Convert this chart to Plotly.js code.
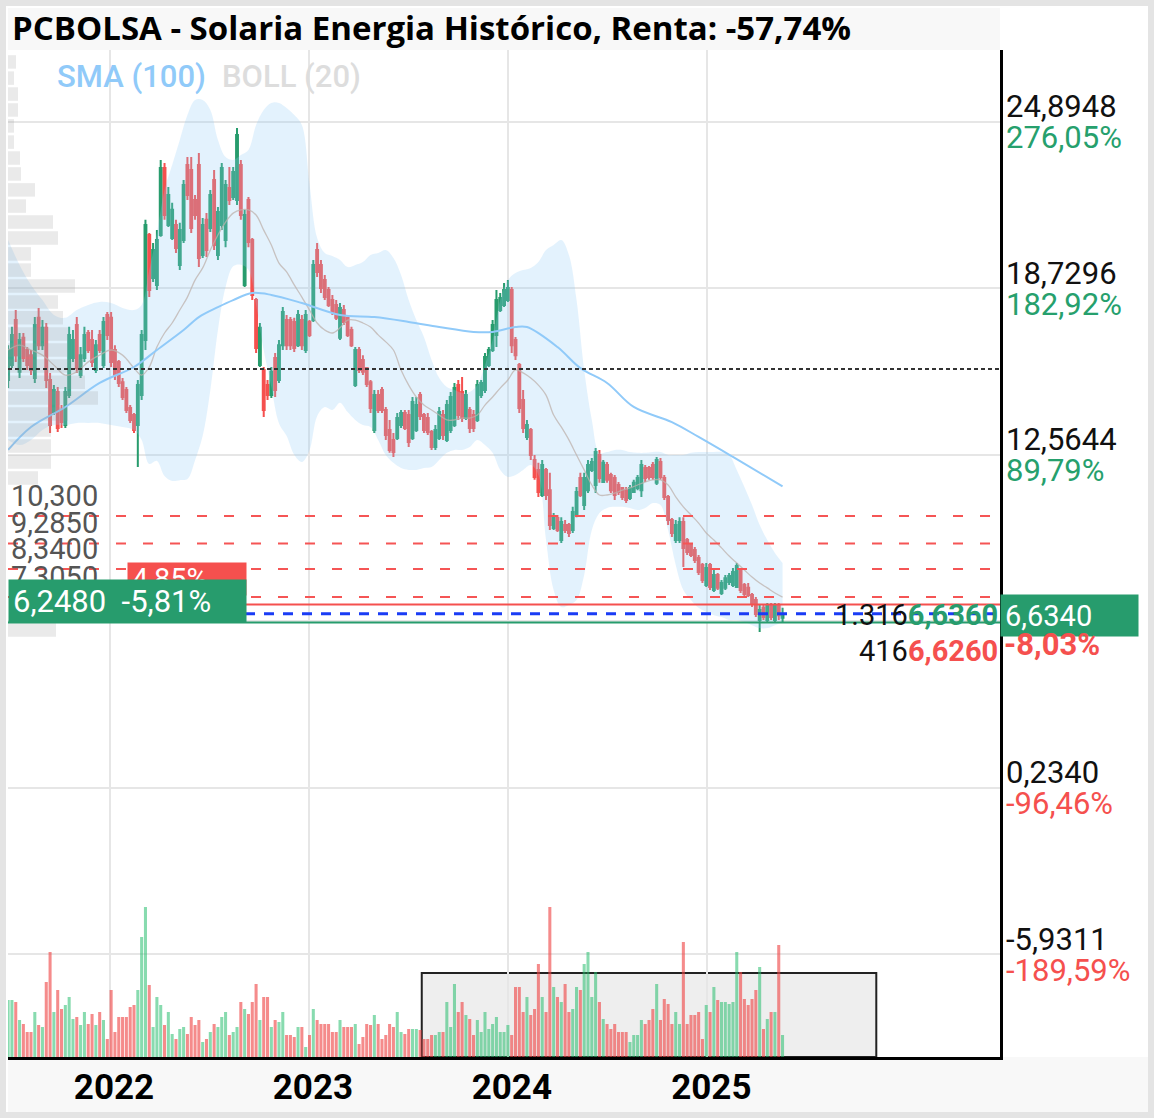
<!DOCTYPE html>
<html><head><meta charset="utf-8">
<script src="https://cdn.plot.ly/plotly-3.0.1.min.js"></script>
<style>
html,body{margin:0;padding:0;background:#e4e4e4;}
#chart{position:absolute;left:6px;top:6px;width:1142px;height:1106px;background:#fff;}
</style></head><body><div id="chart"></div>
<script>
// ---------- DATA (weekly candles) ----------
const firstWeek = [2021, 5, 28]; // 2021-06-28, weekly bars
const opens = [15.34,15.89,17.56,15.64,16.90,16.45,16.26,15.41,17.64,16.63,
17.27,15.34,14.15,14.89,14.23,13.67,14.78,16.15,17.38,15.52,
16.15,17.08,16.82,15.71,17.01,15.89,17.75,17.64,16.45,16.01,
15.26,14.97,14.30,14.04,13.67,14.78,16.82,20.71,19.12,18.86,
20.71,23.19,21.08,20.60,21.08,19.60,20.52,23.30,23.12,22.01,
23.30,19.97,21.27,20.97,22.75,19.97,21.08,20.52,22.45,22.12,
22.01,23.30,18.86,22.01,20.52,18.30,15.89,15.71,15.15,14.78,
16.15,15.34,16.63,17.56,17.56,17.49,16.63,17.56,16.45,17.49,
17.56,20.15,19.60,19.04,18.67,18.30,18.12,16.90,17.93,17.64,
17.19,15.15,16.45,16.08,15.78,15.26,13.49,14.78,14.97,14.23,
13.49,13.12,13.19,13.67,14.12,14.04,13.19,13.49,14.78,14.04,
13.93,13.41,12.86,13.19,14.04,13.12,13.49,13.67,15.15,14.89,
13.93,14.23,14.04,13.86,14.78,14.97,15.89,16.45,17.01,17.93,
18.12,18.30,18.67,16.82,15.89,14.60,13.23,13.49,12.38,12.01,
11.08,12.01,11.26,9.86,10.23,9.41,9.97,9.97,9.78,10.34,
11.71,10.71,11.26,12.01,11.45,12.56,11.56,12.19,11.82,11.71,
11.45,11.34,11.26,10.97,11.19,11.34,11.26,12.08,12.08,12.19,
11.53,12.30,11.71,11.01,10.15,9.41,9.41,10.08,9.41,9.23,
9.04,8.75,8.49,7.75,8.49,7.56,8.12,7.45,7.64,7.86,
7.75,7.67,8.30,7.75,7.64,7.38,7.19,6.45,6.90,6.45,
6.97,6.45,6.97,6.53];
const highs = [16.63,17.31,17.93,17.08,17.08,16.56,16.45,17.67,18.01,17.56,
17.45,15.60,15.15,15.08,14.41,15.08,17.31,17.19,17.67,16.56,
17.31,17.19,17.19,16.82,17.19,17.67,17.86,17.86,16.63,16.08,
15.41,15.08,14.41,14.12,15.34,17.19,21.27,20.78,20.41,20.89,
23.49,23.38,22.49,21.90,21.27,21.16,22.75,23.60,23.60,22.19,
23.75,21.34,21.52,22.38,23.12,21.75,23.38,22.75,23.23,23.23,
24.67,23.49,21.64,22.12,20.60,18.38,17.45,15.82,15.34,15.82,
16.34,16.82,18.04,17.75,17.67,17.64,17.93,17.75,17.93,17.56,
19.78,20.41,19.78,19.23,18.78,18.49,18.30,18.19,18.12,17.67,
17.31,16.56,16.56,16.26,15.82,15.34,14.97,14.97,15.08,14.34,
13.86,13.38,14.12,14.23,14.23,14.23,14.71,14.71,14.89,14.12,
14.12,13.49,13.67,14.34,14.23,14.60,14.89,15.23,15.34,15.45,
14.97,14.34,14.23,15.34,15.34,16.34,16.56,17.56,18.67,18.56,
18.93,19.04,18.78,16.93,15.97,14.97,13.86,13.56,12.56,12.27,
12.38,12.08,11.90,10.41,10.34,10.26,10.15,10.04,10.64,11.38,
11.90,11.90,12.38,12.45,12.82,12.75,12.38,12.30,11.90,11.82,
11.56,11.38,11.38,11.45,11.64,11.82,12.38,12.19,12.15,12.30,
12.49,12.45,11.82,11.08,10.23,10.15,10.26,10.26,9.49,9.30,
9.15,8.86,8.56,8.56,8.56,8.30,8.19,7.93,8.12,8.19,
8.38,8.56,8.38,7.82,7.82,7.45,7.30,7.01,7.01,7.08,
7.08,7.08,7.08,6.90];
const lows = [15.04,15.78,16.01,15.41,16.01,15.71,15.52,15.23,16.45,16.45,
15.04,13.38,14.04,13.41,13.56,13.56,14.67,16.01,15.60,15.41,
16.01,16.34,15.82,15.60,16.34,15.78,16.82,15.82,15.34,15.08,
14.60,14.12,13.75,13.38,12.12,14.60,16.45,18.41,18.97,18.67,
20.64,21.27,21.01,20.52,20.04,19.41,20.41,22.01,20.78,21.27,
19.52,19.86,19.89,20.82,20.15,19.78,20.89,20.26,21.82,22.01,
21.82,21.27,18.78,20.26,18.30,16.34,15.82,13.97,14.60,14.67,
14.71,15.23,16.45,16.45,16.45,16.38,16.56,16.45,16.34,16.93,
17.49,19.15,18.56,18.30,18.04,17.75,17.56,16.82,17.38,16.93,
16.56,15.08,15.60,15.52,15.08,14.12,13.38,14.12,14.12,13.12,
12.64,12.49,13.12,13.56,13.49,12.86,13.12,13.41,13.86,13.38,
13.30,12.75,12.75,13.12,13.12,13.04,13.38,13.60,13.86,13.78,
13.86,13.38,13.41,13.78,14.67,14.86,15.82,16.38,16.56,17.86,
18.04,18.23,16.34,16.08,14.12,13.38,13.12,12.38,11.64,11.01,
11.01,10.89,9.78,9.78,9.71,9.30,9.67,9.52,9.67,10.26,
11.01,10.52,11.15,11.93,11.15,11.53,11.53,11.53,11.15,10.89,
11.08,10.89,10.78,10.89,11.15,11.26,11.01,11.56,11.64,11.64,
11.45,11.64,10.89,9.97,9.52,9.30,9.30,8.41,8.86,8.78,
8.56,8.12,7.82,7.67,7.56,7.49,7.56,7.38,7.56,7.75,
7.67,7.64,7.45,7.30,7.30,6.93,6.56,6.01,6.45,6.34,
6.45,6.38,6.45,6.38];
const closes = [16.45,17.01,16.26,16.82,16.15,15.89,15.71,17.38,16.63,17.27,
15.34,13.67,14.97,13.56,13.78,14.89,17.01,16.82,15.78,16.26,
17.01,16.45,16.01,16.63,16.45,17.49,17.01,16.01,15.52,15.23,
14.71,14.23,13.86,13.49,15.15,17.01,21.08,18.67,20.15,20.52,
23.19,21.45,22.19,21.64,20.23,20.89,22.56,22.19,20.97,21.45,
19.86,21.08,20.15,22.19,20.34,21.56,23.19,22.56,22.01,23.04,
24.41,21.45,21.45,20.45,18.49,16.52,17.27,14.23,14.78,15.64,
14.97,16.63,17.86,16.63,16.63,16.52,17.75,16.63,17.75,17.01,
19.60,19.34,18.75,18.41,18.12,17.86,17.64,18.01,17.49,17.01,
16.63,16.45,15.71,15.64,15.19,14.30,14.78,14.23,14.23,13.30,
12.75,12.67,13.93,14.12,13.56,13.04,14.52,14.41,14.01,13.49,
13.41,12.86,13.49,14.15,13.30,14.41,14.71,15.04,14.04,13.93,
14.78,13.56,13.56,15.15,15.23,16.19,16.45,17.38,18.30,18.38,
18.67,18.75,16.63,16.26,14.30,13.56,13.67,12.56,11.75,11.19,
12.19,11.08,9.97,10.26,9.78,10.08,9.78,9.67,10.45,11.19,
11.08,11.71,12.19,12.30,12.67,11.71,12.27,11.64,11.26,11.08,
11.19,11.01,10.89,11.34,11.53,11.71,12.19,11.71,11.75,11.75,
12.38,11.75,11.01,10.15,9.67,9.97,10.08,9.12,8.97,8.86,
8.67,8.23,7.93,8.38,7.67,8.12,7.64,7.82,8.00,8.08,
8.23,8.45,7.56,7.41,7.38,7.04,6.67,6.82,6.56,6.97,
6.56,6.97,6.63,6.634];
const volumes = [57,57,55,37,33,25,25,45,32,30, 75,105,45,67,48,52,60,38,40,32,
45,33,43,32,45,37,18,67,25,40, 40,40,50,52,67,120,150,72,30,60,
52,32,45,23,18,28,30,23,40,32, 37,15,18,25,33,30,40,45,22,25,
30,55,48,43,55,73,37,60,60,30, 37,35,45,22,22,20,30,30,10,22,
48,37,33,33,33,25,25,37,30,30, 30,33,13,20,33,32,42,33,18,22,
33,30,45,25,23,28,28,28,27,18, 18,22,22,25,25,55,30,73,45,55,
42,38,22,37,25,45,28,33,40,25, 25,32,22,70,70,45,60,42,48,93,
60,45,150,70,60,55,73,45,48,70, 67,93,105,60,85,55,38,33,28,33,
25,25,25,15,22,22,37,33,37,48, 73,37,58,53,33,45,33,115,33,42,
42,45,18,52,45,70,57,55,55,53, 55,105,85,58,52,58,67,90,28,38,
45,45,112,22];

// SMA(100), read at sparse weeks
const smaWeek = [0,6,15,24,33,39,46,50,55,59,64,69,77,87,96,105,113,122,127,133,136,144,150,157,164,174,181,190,203];
const smaVal  = [12.75,13.60,14.34,15.23,15.82,16.45,17.19,17.67,18.04,18.30,18.56,18.49,18.19,17.75,17.67,17.49,17.30,17.12,17.12,17.30,17.30,16.56,15.78,15.23,14.34,13.78,13.23,12.49,11.40];

// Bollinger (20), read at sparse weeks
const bbWeek = [0,3,6,9,12,15,18,21,24,27,30,33,35,37,39,41,43,45,47,49,51,53,55,57,59,61,63,65,67,69,71,73,75,77,79,81,83,85,87,89,91,93,95,97,99,101,103,105,107,109,111,113,115,117,119,121,123,125,127,129,131,133,135,137,139,141,143,145,147,149,151,153,155,157,159,161,163,165,167,169,171,173,175,177,179,181,183,185,187,189,191,193,195,197,199,201,203];
const bbUpper = [20.52,19.60,18.86,18.30,17.75,17.64,17.93,18.12,18.23,18.19,18.01,17.93,18.12,19.41,20.78,22.38,23.30,24.23,25.15,25.71,25.71,25.34,24.23,23.60,23.49,23.67,23.86,24.78,25.34,25.60,25.60,25.41,25.15,24.78,22.60,20.60,20.04,19.93,19.78,19.52,19.60,19.71,19.97,20.04,20.15,19.86,19.23,18.30,17.56,16.93,16.08,15.41,15.08,14.97,14.86,14.89,15.15,15.89,16.82,18.30,19.04,19.30,19.41,19.49,19.71,20.15,20.34,20.52,19.97,18.30,15.71,13.86,12.64,12.67,12.75,12.75,12.67,12.64,12.64,12.67,12.67,12.56,12.56,12.56,12.64,12.67,12.67,12.67,12.67,12.56,12.01,11.38,10.71,9.97,9.41,8.93,8.56];
const bbMid = [16.45,16.63,16.45,16.26,15.89,15.52,15.64,16.01,16.26,16.45,16.26,15.78,15.52,15.82,16.56,17.08,17.45,17.93,18.41,19.04,19.49,20.15,20.71,21.19,21.52,21.64,21.64,21.45,20.89,20.34,19.67,19.34,18.86,18.41,17.93,17.45,17.19,17.08,17.27,17.56,17.56,17.45,17.30,17.01,16.75,16.45,15.71,15.15,14.71,14.41,14.23,14.04,13.86,13.86,13.93,13.93,14.04,14.41,14.71,15.04,15.34,15.71,15.60,15.41,15.15,14.78,14.04,13.60,13.12,12.56,12.01,11.45,11.08,11.08,11.15,11.26,11.34,11.45,11.56,11.64,11.64,11.45,11.01,10.64,10.34,10.04,9.67,9.41,9.12,8.82,8.56,8.30,8.04,7.82,7.64,7.45,7.30];
const bbLower = [13.12,12.93,13.12,13.49,13.67,13.67,13.75,13.75,13.75,13.67,13.60,13.49,13.12,12.23,12.34,11.78,11.60,11.63,11.67,12.37,13.27,14.96,17.19,18.78,19.55,19.61,19.42,18.12,16.44,15.08,13.74,13.27,12.57,12.30,12.74,14.00,14.34,14.23,14.50,14.15,13.86,13.67,13.60,13.12,12.56,12.27,12.08,12.01,12.01,12.08,12.12,12.38,12.64,12.75,12.75,12.86,13.12,12.93,12.64,12.01,11.75,11.82,12.01,12.19,11.82,9.41,7.56,6.93,7.01,7.19,8.12,9.78,10.41,10.60,10.64,10.64,10.60,10.52,10.60,10.78,10.71,9.78,8.49,7.56,7.19,6.90,6.75,6.63,6.56,6.45,6.45,6.38,6.26,6.15,6.15,6.26,6.38];

// Volume profile (left), price level and relative volume
const profPrice = [27.12,26.52,25.93,25.34,24.75,24.15,23.56,22.97,22.38,21.78,21.19,20.60,20.01,19.41,18.82,18.23,17.64,17.04,16.45,15.86,15.26,14.67,14.08,13.49,12.89,12.30,11.71,6.08];
const profVol   = [8,6,10,10,6,6,12,13,27,18,45,50,23,23,67,50,55,60,60,75,77,90,60,43,43,43,30,48];

// Axis ticks and labels
const priceTicks = [24.8948,18.7296,12.5644,6.3992,0.2340,-5.9311];
const priceTickText = ['24,8948','18,7296','12,5644','','0,2340','-5,9311'];
const pctTickText = ['276,05%','182,92%','89,79%','','-96,46%','-189,59%'];
const yearTicks = ['2022-01-01','2023-01-01','2024-01-01','2025-01-01'];
const yearText = ['2022','2023','2024','2025'];

// Horizontal levels
const pivotLevel = 15.75;
const resistLevels = [10.30, 9.285, 8.34, 7.305];
const resistText = ['10,300','9,2850','8,3400','7,3050'];
const highLine = 7.02, lastLine = 6.68, lowLine = 6.36;
const boxRange = ['2023-07-27','2025-11-07'];

// ---------- BUILD ----------
const G = '#279c6d', R = '#f5504e';
const dates = opens.map((_, i) => new Date(Date.UTC(firstWeek[0], firstWeek[1], firstWeek[2]) + i * 7 * 864e5).toISOString().slice(0, 10));
const bbX = bbWeek.map(i => dates[i]);
const smaX = smaWeek.map(i => dates[i]);
const volColors = closes.map((c, i) => c >= opens[i] ? 'rgba(38,190,110,0.55)' : 'rgba(239,68,68,0.62)');

const traces = [
  {type:'scatter', mode:'lines', x:bbX, y:bbLower, line:{width:0, shape:'spline'}, hoverinfo:'skip'},
  {type:'scatter', mode:'lines', x:bbX, y:bbUpper, line:{width:0, shape:'spline'}, fill:'tonexty', fillcolor:'rgba(144,202,249,0.25)', hoverinfo:'skip'},
  {type:'scatter', mode:'lines', x:bbX, y:bbMid, line:{width:1.3, color:'rgba(190,178,172,0.75)', shape:'spline'}, hoverinfo:'skip'},
  {type:'scatter', mode:'lines', x:smaX, y:smaVal, line:{width:2, color:'#90caf9', shape:'spline'}, hoverinfo:'skip'},
  {type:'bar', orientation:'h', x:profVol, y:profPrice, xaxis:'x2', yaxis:'y', width:0.5, marker:{color:'rgba(150,150,150,0.2)'}, hoverinfo:'skip'},
  {type:'candlestick', x:dates, open:opens, high:highs, low:lows, close:closes,
   increasing:{line:{color:G, width:2}, fillcolor:G}, decreasing:{line:{color:R, width:2}, fillcolor:R}, whiskerwidth:0},
  {type:'bar', x:dates, y:volumes, yaxis:'y2', marker:{color:volColors}, hoverinfo:'skip'}
];

const pY = py => (1057 - py) / 1007;   // page pixel -> paper (for text boxes only)
const pX = px => (px - 8) / 992;

const shapes = [
  {type:'rect', xref:'paper', yref:'paper', x0:0, x1:1, y0:1, y1:pY(8), fillcolor:'#f8f8f8', line:{width:0}, layer:'below'},
  {type:'rect', xref:'paper', yref:'paper', x0:0, x1:pX(1148), y0:0, y1:pY(1112), fillcolor:'#f8f8f8', line:{width:0}, layer:'below'},
  {type:'rect', xref:'x', yref:'paper', x0:boxRange[0], x1:boxRange[1], y0:0, y1:pY(973), fillcolor:'#eeeeee', line:{color:'#222', width:2}, layer:'between'},
  {type:'line', xref:'paper', yref:'y', x0:0, x1:1, y0:pivotLevel, y1:pivotLevel, line:{color:'#333', width:2, dash:'4px,3px'}}
];
resistLevels.forEach(v => shapes.push({type:'line', xref:'paper', yref:'y', x0:0, x1:pX(992), y0:v, y1:v, line:{color:'#f55555', width:2, dash:'10px,17px'}}));
shapes.push({type:'line', xref:'paper', yref:'y', x0:pX(245), x1:1, y0:highLine, y1:highLine, line:{color:R, width:2}});
shapes.push({type:'line', xref:'paper', yref:'y', x0:pX(245), x1:1, y0:lastLine, y1:lastLine, line:{color:'#1a3cf5', width:3, dash:'10px,9px'}});
shapes.push({type:'line', xref:'paper', yref:'y', x0:0, x1:1, y0:lowLine, y1:lowLine, line:{color:G, width:2}});

const F = 'Roboto, sans-serif';
const ann = [];
priceTicks.forEach((v, i) => {
  if (!priceTickText[i]) return;
  ann.push({xref:'paper', x:1, xanchor:'left', xshift:4, yref:'y', y:v, yanchor:'middle', yshift:15, text:priceTickText[i], showarrow:false, font:{family:F, size:31, color:'#111'}});
  ann.push({xref:'paper', x:1, xanchor:'left', xshift:4, yref:'y', y:v, yanchor:'middle', yshift:-16, text:pctTickText[i], showarrow:false, font:{family:F, size:31, color: v > 6.62 ? '#26a06d' : '#f5504e'}});
});
resistLevels.forEach((v, i) => ann.push({xref:'paper', x:0, xanchor:'left', xshift:1, yref:'y', y:v, yanchor:'middle', yshift:20, text:resistText[i], showarrow:false, font:{family:F, size:29, color:'#555'}}));
ann.push({xref:'paper', x:pX(127), xanchor:'left', yref:'paper', y:pY(579), yanchor:'middle', text:'4,85%', showarrow:false, bgcolor:R, width:110, height:24, borderpad:4, align:'left', font:{family:F, size:29, color:'#fff'}});
ann.push({xref:'paper', x:0, xanchor:'left', yref:'paper', y:pY(601), yanchor:'middle', text:'6,2480  -5,81%', showarrow:false, bgcolor:G, width:229, height:34, borderpad:4, align:'left', font:{family:F, size:31, color:'#fff'}});
ann.push({xref:'paper', x:1, xanchor:'right', yref:'paper', y:pY(615), yanchor:'middle', text:'1.316<b><span style="color:'+G+'">6,6360</span></b>', showarrow:false, font:{family:F, size:29, color:'#111'}});
ann.push({xref:'paper', x:1, xanchor:'right', yref:'paper', y:pY(651), yanchor:'middle', text:'416<b><span style="color:'+R+'">6,6260</span></b>', showarrow:false, font:{family:F, size:29, color:'#111'}});
ann.push({xref:'paper', x:1, xanchor:'left', yref:'paper', y:pY(615.5), yanchor:'middle', text:'6,6340', showarrow:false, bgcolor:G, width:129, height:33, borderpad:4, align:'left', font:{family:F, size:29, color:'#fff'}});
ann.push({xref:'paper', x:1, xanchor:'left', xshift:2, yref:'paper', y:pY(645), yanchor:'middle', text:'<b>-8,03%</b>', showarrow:false, font:{family:F, size:31, color:R}});
ann.push({xref:'paper', x:pX(55), xanchor:'left', yref:'paper', y:pY(77), yanchor:'middle', text:'SMA (100)', showarrow:false, font:{family:F, size:31, weight:500, color:'#90caf9'}});
ann.push({xref:'paper', x:pX(220), xanchor:'left', yref:'paper', y:pY(77), yanchor:'middle', text:'BOLL (20)', showarrow:false, font:{family:F, size:31, weight:500, color:'#dddddd'}});

const layout = {
  width:1142, height:1106,
  margin:{l:2, r:148, t:44, b:55},
  paper_bgcolor:'#ffffff', plot_bgcolor:'rgba(0,0,0,0)',
  showlegend:false, hovermode:false, bargap:0.2,
  title:{text:'PCBOLSA - Solaria Energia Histórico, Renta: -57,74%', xref:'container', yref:'container', x:0.0053, xanchor:'left', y:0.9801, yanchor:'middle',
         font:{family:'Open Sans, sans-serif', size:33, weight:700, color:'#000'}},
  xaxis:{type:'date', range:['2021-06-27 19:00','2026-06-22'], tickvals:yearTicks, ticktext:yearText, showgrid:true, gridcolor:'#e6e6e6', gridwidth:2,
         showline:true, linecolor:'#000', linewidth:3, ticks:'', zeroline:false, rangeslider:{visible:false},
         ticklabelshift:4, ticklabelstandoff:-3,
         tickfont:{family:F, size:35, weight:700, color:'#000'}},
  yaxis:{side:'right', range:[-9.735, 27.561], tickvals:priceTicks, showticklabels:false, showgrid:true, gridcolor:'#e6e6e6', gridwidth:2,
         showline:true, linecolor:'#000', linewidth:3, zeroline:false, ticks:''},
  yaxis2:{overlaying:'y', range:[0, 1007], visible:false, fixedrange:true},
  xaxis2:{overlaying:'x', range:[0, 992], visible:false},
  shapes:shapes, annotations:ann
};
Plotly.newPlot('chart', traces, layout, {staticPlot:true, displayModeBar:false});
</script></body></html>
